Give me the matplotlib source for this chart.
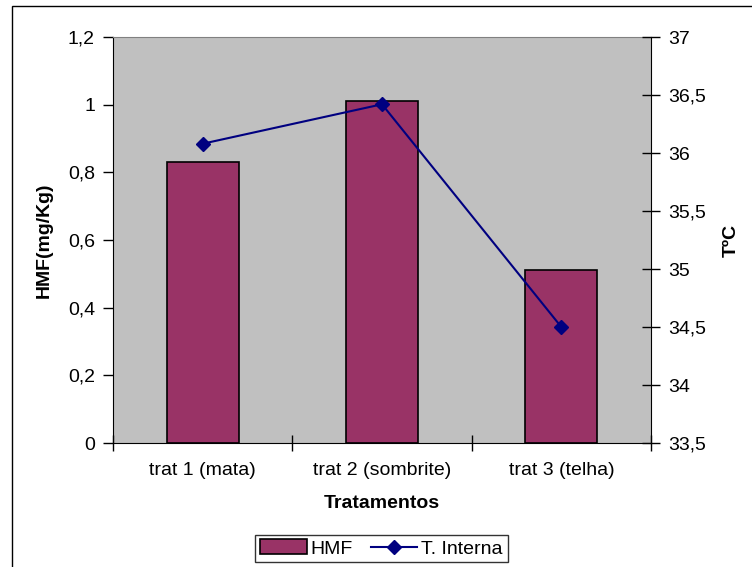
import matplotlib.pyplot as plt
from matplotlib.ticker import FixedLocator, FuncFormatter
from matplotlib.patches import Rectangle

plt.rcParams['font.family'] = ['Liberation Sans', 'DejaVu Sans']

tratamentos = ['trat 1 (mata)', 'trat 2 (sombrite)', 'trat 3 (telha)']
hmf = [0.83, 1.01, 0.51]
t_interna = [36.08, 36.42, 34.50]
hmf_ticks = [0, 0.2, 0.4, 0.6, 0.8, 1.0, 1.2]
temp_ticks = [33.5, 34, 34.5, 35, 35.5, 36, 36.5, 37]


def virgula(v, pos):
    # decimal comma, no trailing zeros
    return ('%g' % v).replace('.', ',')


fig = plt.figure(figsize=(7.52, 5.67), dpi=100)
# outer chart frame (runs off the right and bottom edges)
fig.patches.append(Rectangle((12 / 752, -0.1), 1.2, 1 - 5.5 / 567 + 0.1,
                             transform=fig.transFigure, fill=False,
                             edgecolor='black', linewidth=1.0))

ax = fig.add_axes([113 / 752, 1 - 443 / 567, 538 / 752, 406 / 567])
ax.set_facecolor('#C0C0C0')
x = range(len(tratamentos))
barras = ax.bar(x, hmf, width=0.4, color='#993366', edgecolor='black',
                linewidth=1.2, label='HMF', zorder=2)
ax.set_xlim(-0.5, 2.5)
ax.set_ylim(0, 1.2)
ax.yaxis.set_major_locator(FixedLocator(hmf_ticks))
ax.yaxis.set_major_formatter(FuncFormatter(virgula))
ax.set_xticks(list(x))
ax.set_xticklabels(tratamentos, fontsize=14)
ax.tick_params(axis='x', length=0, pad=14)
ax.set_xticks([-0.5, 0.5, 1.5, 2.5], minor=True)
ax.tick_params(axis='x', which='minor', direction='inout', length=12, width=1)
ax.tick_params(axis='y', direction='out', length=7, width=1, labelsize=14, pad=6)
ax.spines['top'].set_color('#808080')
ax.spines['right'].set_visible(False)
ax.set_ylabel('HMF(mg/Kg)', fontsize=14, fontweight='bold', labelpad=11)
ax.set_xlabel('Tratamentos', fontsize=14, fontweight='bold', labelpad=11)

ax2 = ax.twinx()
linha, = ax2.plot(list(x), t_interna, color='#000080', linewidth=1.5,
                  marker='D', markersize=7, label='T. Interna')
ax2.set_ylim(33.5, 37)
ax2.yaxis.set_major_locator(FixedLocator(temp_ticks))
ax2.yaxis.set_major_formatter(FuncFormatter(virgula))
ax2.tick_params(axis='y', direction='inout', length=13, width=1, labelsize=14, pad=6)
ax2.spines['top'].set_visible(False)
ax2.spines['left'].set_visible(False)
ax2.spines['bottom'].set_visible(False)
ax2.set_ylabel('TºC', fontsize=14, fontweight='bold', labelpad=12)

leg = fig.legend([barras, linha], ['HMF', 'T. Interna'], loc='center',
                 bbox_to_anchor=(381.5 / 752, 1 - 548.5 / 567), ncol=2,
                 fontsize=14, frameon=True, fancybox=False, handlelength=2.4,
                 handleheight=0.8, handletextpad=0.2, columnspacing=0.9,
                 borderpad=0.25)
leg.get_frame().set_edgecolor('black')
leg.get_frame().set_linewidth(1.0)

plt.savefig('out.png', dpi=100)
